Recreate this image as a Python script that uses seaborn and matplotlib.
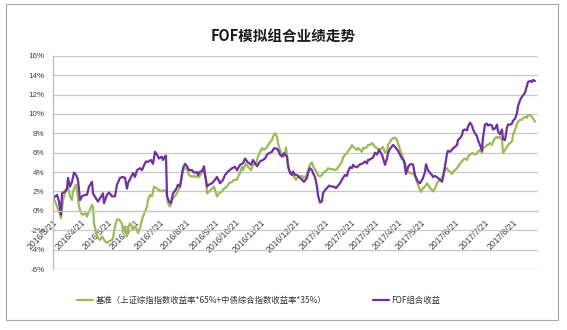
import matplotlib
matplotlib.use("Agg")
import matplotlib.pyplot as plt
from matplotlib.patches import Rectangle
from matplotlib.ticker import FuncFormatter
import seaborn as sns
import pandas as pd

# ---------------- data (trading-day index, cumulative return %) ----------------
fof_t = [0, 4, 6, 8, 9, 12, 14, 15, 17, 19, 21, 23, 25, 27, 29, 32, 34, 36, 39, 40,
         43, 45, 47, 50, 51, 54, 56, 59, 62, 64, 67, 70, 72, 74, 75, 79, 80, 82, 84, 87,
         89, 91, 93, 95, 98, 100, 102, 104, 106, 109, 110, 112, 113, 114, 116, 118, 120, 123, 125, 127,
         130, 132, 134, 136, 139, 141, 144, 145, 147, 149, 151, 152, 154, 156, 159, 162, 164, 167, 170, 172,
         175, 179, 182, 184, 187, 190, 192, 194, 198, 200, 202, 204, 207, 210, 212, 214, 216, 219, 221, 223,
         225, 227, 229, 231, 234, 235, 237, 239, 240, 242, 244, 246, 249, 251, 254, 255, 257, 259, 260, 262,
         264, 265, 267, 269, 270, 272, 274, 276, 279, 281, 283, 285, 287, 290, 292, 294, 295, 297, 299, 300,
         302, 304, 307, 310, 312, 314, 315, 317, 320, 322, 324, 326, 329, 332, 334, 335, 337, 340, 342, 345,
         349, 351, 353, 355, 357, 360, 362, 364, 365, 367, 369, 370, 372, 373, 375, 377, 379, 380, 382, 385,
         389, 390, 392, 394, 395, 397, 399, 400, 402, 404, 405, 407, 409, 410, 412, 414, 415, 417, 419, 420,
         422, 424, 425, 427, 429, 430, 432, 434, 435, 437, 439, 440, 442, 444, 445, 447, 449, 450, 452, 454,
         455, 457, 459, 460, 462, 464, 465, 467, 469, 470, 472, 474, 475, 477, 479, 480, 482]
fof_v = [1.3, 1.65, 0.96, -0.4, 1.8, 2.0, 2.3, 3.4, 2.5, 3.0, 3.95, 3.7, 3.2, 1.1, 1.5, 1.65, 1.65, 2.5, 3.0, 1.8,
         1.3, 0.96, 1.3, 1.8, 0.8, 1.65, 1.9, 1.5, 1.5, 2.7, 3.4, 3.5, 3.4, 2.3, 2.85, 3.7, 3.9, 3.5, 4.2, 4.4,
         4.2, 4.7, 5.1, 5.05, 5.25, 4.85, 6.1, 5.8, 5.4, 5.6, 5.25, 5.6, 5.7, 1.5, 0.96, 0.8, 1.8, 2.2, 2.7, 2.5,
         4.4, 4.85, 4.6, 4.2, 4.2, 3.95, 4.0, 3.7, 4.05, 4.1, 4.6, 3.7, 2.5, 2.7, 2.85, 3.2, 3.5, 2.85, 3.2, 3.7,
         4.05, 4.4, 4.55, 4.2, 4.75, 4.9, 5.4, 5.1, 4.75, 5.25, 4.9, 4.6, 5.1, 5.25, 5.4, 5.8, 5.95, 6.1, 6.45, 6.45,
         6.3, 5.8, 5.6, 5.95, 5.6, 4.6, 3.9, 3.7, 4.05, 3.7, 3.7, 3.5, 3.2, 3.0, 3.4, 3.9, 4.4, 4.2, 3.9, 3.5,
         2.5, 1.6, 0.85, 1.0, 1.8, 2.15, 2.35, 2.6, 2.5, 2.5, 2.35, 2.6, 2.85, 3.4, 3.7, 3.6, 4.05, 4.5, 4.4, 4.75,
         4.55, 4.5, 4.8, 4.9, 5.1, 4.9, 5.25, 5.3, 5.5, 6.0, 5.8, 6.3, 5.8, 4.75, 5.4, 5.95, 6.4, 6.8, 6.6, 6.2,
         5.4, 5.2, 3.8, 4.5, 4.8, 4.8, 3.7, 3.2, 3.0, 2.85, 3.2, 3.4, 4.0, 4.8, 4.2, 3.9, 3.7, 3.5, 3.6, 3.4,
         3.0, 3.4, 4.6, 5.9, 6.2, 6.1, 6.3, 6.45, 6.6, 6.8, 7.3, 7.5, 7.8, 8.3, 8.4, 8.3, 8.7, 9.1, 8.8, 8.4,
         8.0, 7.7, 7.3, 6.8, 6.2, 7.6, 8.9, 9.0, 8.8, 8.9, 8.8, 8.4, 8.5, 8.9, 8.2, 7.9, 8.4, 7.4, 7.3, 8.6,
         8.9, 8.9, 9.0, 9.3, 9.5, 10.1, 10.8, 11.4, 11.8, 11.9, 12.2, 12.9, 13.3, 13.4, 13.3, 13.5, 13.4]

bench_t = [0, 2, 4, 6, 8, 10, 12, 14, 15, 17, 19, 20, 22, 23, 24, 26, 28, 30, 33, 34,
           36, 39, 40, 41, 44, 45, 47, 49, 50, 52, 54, 56, 59, 60, 62, 64, 66, 69, 70, 72,
           74, 75, 77, 79, 80, 82, 84, 85, 87, 89, 90, 92, 94, 95, 97, 99, 101, 104, 106, 109,
           111, 113, 114, 115, 117, 119, 120, 123, 125, 127, 130, 132, 134, 136, 139, 141, 144, 146, 149, 151,
           153, 154, 156, 159, 161, 164, 166, 169, 171, 174, 176, 179, 181, 184, 185, 187, 189, 190, 193, 195,
           198, 200, 203, 205, 207, 209, 211, 214, 216, 219, 220, 222, 224, 225, 227, 229, 231, 233, 234, 236,
           239, 240, 243, 244, 246, 249, 250, 252, 254, 255, 257, 259, 260, 262, 264, 265, 267, 269, 270, 274,
           275, 277, 280, 282, 284, 285, 287, 289, 290, 292, 294, 295, 297, 299, 300, 302, 304, 305, 307, 309,
           310, 312, 314, 315, 317, 319, 322, 324, 327, 330, 332, 334, 335, 338, 340, 342, 344, 345, 347, 349,
           350, 352, 354, 355, 357, 360, 362, 364, 365, 367, 368, 370, 372, 374, 375, 377, 379, 380, 382, 384,
           385, 387, 389, 390, 392, 394, 395, 397, 399, 400, 402, 404, 405, 407, 409, 410, 412, 414, 415, 417,
           419, 420, 422, 424, 425, 427, 429, 430, 432, 434, 435, 437, 439, 440, 442, 444, 445, 447, 449, 450,
           452, 454, 455, 457, 459, 460, 462, 464, 465, 467, 469, 470, 472, 474, 475, 477, 479, 480, 482]
bench_v = [1.3, 1.0, 0.45, -0.07, -0.75, 1.13, 1.8, 2.3, 2.5, 1.5, 1.13, 2.0, 2.5, 2.7, 2.15, 0.45, -0.24, -0.4, -0.25, -0.6,
           -0.07, 0.6, 0.45, -1.3, -2.65, -2.8, -3.0, -2.65, -2.8, -3.15, -3.3, -3.15, -3.0, -2.8, -1.6, -0.9, -0.9, -1.3, -2.1, -1.6,
           -2.65, -1.8, -1.3, -1.6, -1.95, -1.6, -1.95, -2.3, -1.8, -0.9, -0.6, -0.07, 0.45, 1.13, 1.65, 1.5, 2.5, 2.3, 2.15, 2.0,
           2.15, 2.0, 1.5, 0.8, 0.45, 1.13, 1.3, 1.65, 2.0, 2.5, 4.2, 4.4, 4.3, 3.7, 3.5, 3.6, 3.5, 3.5, 3.9, 4.2,
           3.4, 1.8, 2.0, 2.3, 2.5, 1.5, 1.8, 2.0, 2.3, 2.5, 2.85, 3.0, 3.2, 3.2, 3.5, 3.9, 4.55, 4.2, 4.9, 4.55,
           4.2, 4.75, 4.9, 5.6, 6.1, 6.45, 6.3, 6.55, 6.95, 7.3, 7.65, 8.0, 7.65, 6.95, 6.3, 5.8, 5.6, 6.55, 5.6, 4.2,
           3.9, 3.7, 3.2, 3.4, 3.5, 3.6, 3.4, 3.5, 3.7, 4.2, 4.8, 5.0, 4.6, 4.3, 3.9, 3.7, 3.55, 3.7, 3.9, 4.2,
           4.4, 4.3, 4.3, 4.2, 4.3, 4.5, 4.75, 5.1, 5.5, 5.8, 5.95, 6.2, 6.4, 6.8, 6.6, 6.45, 6.3, 6.5, 6.3, 6.1,
           6.5, 6.45, 6.6, 6.8, 6.8, 7.0, 6.6, 6.45, 6.3, 6.6, 6.0, 6.1, 6.8, 7.3, 7.5, 7.55, 7.3, 7.0, 6.3, 5.8,
           5.3, 4.9, 4.4, 4.05, 3.9, 3.9, 3.55, 3.0, 2.7, 2.15, 1.95, 2.35, 2.5, 2.85, 2.7, 2.35, 2.15, 2.0, 2.35, 2.85,
           3.0, 3.2, 3.4, 3.7, 4.2, 4.4, 4.2, 4.05, 3.8, 4.05, 4.2, 4.4, 4.55, 4.9, 5.1, 5.25, 5.4, 5.25, 5.6, 5.8,
           5.95, 5.95, 5.8, 5.95, 6.1, 6.3, 6.0, 6.45, 6.6, 6.8, 6.8, 7.0, 6.8, 7.15, 7.5, 7.65, 7.5, 7.65, 7.3, 6.0,
           6.3, 6.6, 6.8, 7.0, 7.15, 7.85, 8.35, 9.0, 9.2, 9.4, 9.4, 9.55, 9.7, 9.6, 9.9, 9.85, 9.7, 9.5, 9.2]

tick_t = [0, 28, 55, 82, 107, 133, 162, 182, 208, 242, 272, 298, 322, 345, 368, 402, 432, 460]
tick_labels = ["2016/3/21", "2016/4/21", "2016/5/21", "2016/6/21", "2016/7/21", "2016/8/21",
               "2016/9/21", "2016/10/21", "2016/11/21", "2016/12/21", "2017/1/21", "2017/2/21",
               "2017/3/21", "2017/4/21", "2017/5/21", "2017/6/21", "2017/7/21", "2017/8/21"]
y_ticks = [-6, -4, -2, 0, 2, 4, 6, 8, 10, 12, 14, 16]

title = "FOF模拟组合业绩走势"
bench_name = "基准（上证综指指数收益率*65%+中债综合指数收益率*35%）"
fof_name = "FOF组合收益"

# ---------------- style ----------------
sns.set_style("white")
plt.rcParams["font.family"] = ["Noto Sans CJK SC", "DejaVu Sans"]

W, H = 567, 330
fig = plt.figure(figsize=(W / 100, H / 100), dpi=100)
ax = fig.add_axes([53 / W, (H - 269) / H, 485 / W, (269 - 55.8) / H])

df_b = pd.DataFrame({"t": bench_t, "v": bench_v})
df_f = pd.DataFrame({"t": fof_t, "v": fof_v})
GREEN = "#9BBB59"
PURPLE = "#7030A0"
sns.lineplot(data=df_b, x="t", y="v", ax=ax, color=GREEN, lw=1.6,
             estimator=None, sort=False, label=bench_name)
sns.lineplot(data=df_f, x="t", y="v", ax=ax, color=PURPLE, lw=1.6,
             estimator=None, sort=False, label=fof_name)

ax.set_xlim(0, 485)
ax.set_ylim(-6, 16)
ax.set_yticks(y_ticks)
ax.yaxis.set_major_formatter(FuncFormatter(lambda v, p: f"{v:.0f}%"))
ax.set_xticks(tick_t)
ax.set_xticklabels(tick_labels)
ax.set_xlabel("")
ax.set_ylabel("")

ax.grid(axis="y", color="#c8c8c8", lw=0.9)
ax.grid(axis="x", visible=False)
ax.set_axisbelow(True)
for s in ["top", "right"]:
    ax.spines[s].set_visible(False)
ax.spines["left"].set_color("#bcbcbc")
ax.spines["left"].set_linewidth(0.9)
ax.spines["bottom"].set_position(("data", 0))
ax.spines["bottom"].set_color("#c8c8c8")
ax.spines["bottom"].set_linewidth(0.9)

ax.tick_params(axis="y", length=0, pad=6, labelsize=5.8, labelcolor="#404040")
ax.tick_params(axis="x", length=0, pad=5, labelsize=6.2, labelcolor="#404040")
for lab in ax.get_yticklabels():
    lab.set_family(["Liberation Sans", "DejaVu Sans"])
for lab in ax.get_xticklabels():
    lab.set_family(["Liberation Sans", "DejaVu Sans"])
    lab.set_rotation(45)
    lab.set_ha("right")
    lab.set_va("top")
    lab.set_rotation_mode("anchor")

fig.text(283 / W, (H - 36) / H, title, ha="center", va="center",
         fontsize=10.5, fontweight="bold", color="#1a1a1a")

ax.legend(loc="center", bbox_to_anchor=(259 / W, (H - 300) / H),
          bbox_transform=fig.transFigure, ncol=2, frameon=False,
          fontsize=6, handlelength=1.9, handletextpad=0.3, columnspacing=5.6,
          labelcolor="#333333")

fig.patches.append(Rectangle((6 / W, (H - 320) / H), 552 / W, 316 / H,
                             transform=fig.transFigure, fill=False,
                             edgecolor="#a6a6a6", lw=0.8))

fig.savefig("out.png", dpi=100)
